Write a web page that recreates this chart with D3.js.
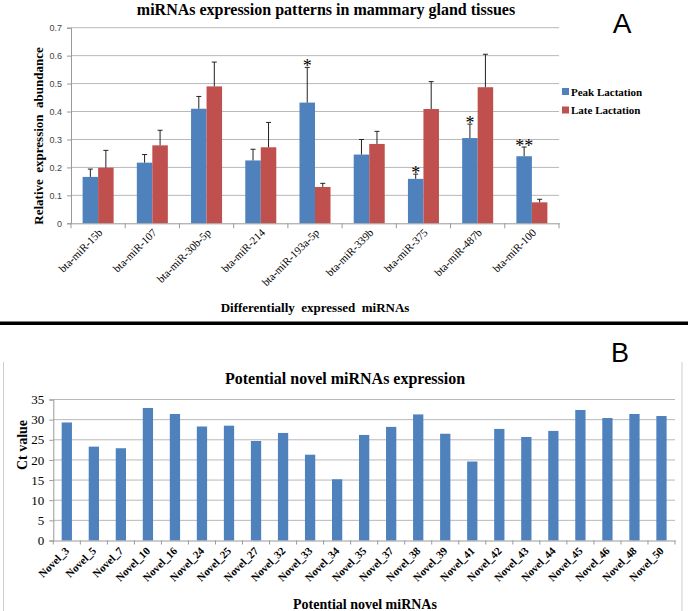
<!DOCTYPE html>
<html><head><meta charset="utf-8">
<script src="https://cdn.jsdelivr.net/npm/d3@7"></script>
<style>body{margin:0;background:#fff}svg{display:block}</style>
</head><body>
<svg id="c" width="688" height="611"></svg>
<script>
// ---- Panel A data ----
const mirnas = ["bta-miR-15b","bta-miR-107","bta-miR-30b-5p","bta-miR-214","bta-miR-193a-5p","bta-miR-339b","bta-miR-375","bta-miR-487b","bta-miR-100"];
const seriesNames = ["Peak Lactation","Late Lactation"];
const peakValues = [0.166,0.217,0.410,0.225,0.432,0.246,0.159,0.305,0.240];
const peakErrors = [0.028,0.029,0.044,0.040,0.126,0.054,0.017,0.050,0.033];
const lateValues = [0.199,0.279,0.490,0.272,0.130,0.284,0.409,0.487,0.075];
const lateErrors = [0.062,0.054,0.087,0.089,0.013,0.045,0.098,0.118,0.011];
const significance = ["","","","","*","","*","*","**"];
const yTicksA = [0,0.1,0.2,0.3,0.4,0.5,0.6,0.7];

// ---- Panel B data ----
const novels = ["Novel_3","Novel_5","Novel_7","Novel_10","Novel_16","Novel_24","Novel_25","Novel_27","Novel_32","Novel_33","Novel_34","Novel_35","Novel_37","Novel_38","Novel_39","Novel_41","Novel_42","Novel_43","Novel_44","Novel_45","Novel_46","Novel_48","Novel_50"];
const ctValues = [29.3,23.3,22.9,32.9,31.4,28.3,28.5,24.7,26.7,21.3,15.2,26.2,28.2,31.3,26.5,19.6,27.7,25.7,27.2,32.4,30.4,31.4,30.9];
const yTicksB = [0,5,10,15,20,25,30,35];

const BLUE = "#4F81BD", RED = "#C0504D", GRID = "#b8b8b8";
const SERIF = "'Liberation Serif','DejaVu Serif',serif";
const SANS = "'Liberation Sans',Arial,sans-serif";
const svg = d3.select("#c");

// ================= Panel A =================
const A = {left:71, right:559, top:27.7, bottom:223.3};
const xA = d3.scaleBand().domain(mirnas).range([A.left, A.right]).paddingInner(0.428).paddingOuter(0.214);
const subA = d3.scaleBand().domain(seriesNames).range([0, xA.bandwidth()]);
const yA = d3.scaleLinear().domain([0,0.7]).range([A.bottom, A.top]);
const color = d3.scaleOrdinal().domain(seriesNames).range([BLUE, RED]);

const gA = svg.append("g");
// gridlines
gA.append("g").selectAll("line").data(yTicksA.slice(1)).join("line")
  .attr("x1", A.left).attr("x2", A.right)
  .attr("y1", d=>yA(d)).attr("y2", d=>yA(d))
  .attr("stroke", GRID).attr("stroke-width", 1);
// y axis
const yAxisA = gA.append("g").attr("transform", `translate(${A.left},0)`)
  .call(d3.axisLeft(yA).tickValues(yTicksA).tickFormat(d=> d===0 ? "0" : d3.format(".1f")(d)).tickSize(4).tickPadding(5));
yAxisA.select(".domain").attr("stroke", "#999");
yAxisA.selectAll(".tick line").attr("stroke", "#999");
yAxisA.selectAll("text").attr("font-family", SANS).attr("font-size", 9).attr("fill", "#444");

// bars
const rowsA = mirnas.map((m,i)=>({m, vals:[
  {s:seriesNames[0], v:peakValues[i], e:peakErrors[i]},
  {s:seriesNames[1], v:lateValues[i], e:lateErrors[i]}], sig:significance[i]}));
const groups = gA.append("g").selectAll("g").data(rowsA).join("g")
  .attr("transform", d=>`translate(${xA(d.m)},0)`);
groups.selectAll("rect").data(d=>d.vals).join("rect")
  .attr("x", d=>subA(d.s)).attr("width", subA.bandwidth())
  .attr("y", d=>yA(d.v)).attr("height", d=>yA(0)-yA(d.v))
  .attr("fill", d=>color(d.s));
// error bars
groups.selectAll("line.err").data(d=>d.vals).join("line").attr("class","err")
  .attr("x1", d=>subA(d.s)+subA.bandwidth()/2).attr("x2", d=>subA(d.s)+subA.bandwidth()/2)
  .attr("y1", d=>yA(d.v)).attr("y2", d=>yA(d.v+d.e))
  .attr("stroke", "#222").attr("stroke-width", 1);
groups.selectAll("line.cap").data(d=>d.vals).join("line").attr("class","cap")
  .attr("x1", d=>subA(d.s)+subA.bandwidth()/2-2.5).attr("x2", d=>subA(d.s)+subA.bandwidth()/2+2.5)
  .attr("y1", d=>yA(d.v+d.e)).attr("y2", d=>yA(d.v+d.e))
  .attr("stroke", "#222").attr("stroke-width", 1);
// significance stars
groups.append("text")
  .attr("x", subA(seriesNames[0])+subA.bandwidth()/2)
  .attr("y", d=>yA(d.vals[0].v+d.vals[0].e)+5)
  .attr("text-anchor","middle").attr("font-family", SERIF).attr("font-size", 18)
  .attr("fill","#000").text(d=>d.sig);

// x axis
const xAxisA = gA.append("g").attr("transform", `translate(0,${A.bottom})`)
  .call(d3.axisBottom(xA).tickSize(0).tickFormat(""));
xAxisA.select(".domain").attr("stroke", "#999");
gA.append("g").selectAll("line").data(d3.range(mirnas.length+1)).join("line")
  .attr("x1", i=>A.left + i*xA.step()).attr("x2", i=>A.left + i*xA.step())
  .attr("y1", A.bottom).attr("y2", A.bottom+5).attr("stroke","#999");
gA.append("g").selectAll("text").data(mirnas).join("text")
  .attr("transform", d=>`translate(${xA(d)+xA.bandwidth()/2+5},${A.bottom+10}) rotate(-45)`)
  .attr("text-anchor","end").attr("font-family", SERIF).attr("font-size", 11).attr("fill","#000")
  .text(d=>d);

// titles
svg.append("text").attr("x", 326).attr("y", 15).attr("text-anchor","middle")
  .attr("font-family", SERIF).attr("font-weight","bold").attr("font-size", 16).text("miRNAs expression patterns in mammary gland tissues");
svg.append("text").attr("x", 315).attr("y", 312).attr("text-anchor","middle").attr("xml:space","preserve")
  .attr("font-family", SERIF).attr("font-weight","bold").attr("font-size", 13).style("white-space","pre")
  .text("Differentially  expressed  miRNAs");
svg.append("text").attr("transform","translate(43,136) rotate(-90)").attr("text-anchor","middle")
  .attr("font-family", SERIF).attr("font-weight","bold").attr("font-size", 13).style("white-space","pre")
  .text("Relative  expression  abundance");
svg.append("text").attr("x", 622).attr("y", 33).attr("text-anchor","middle")
  .attr("font-family", SANS).attr("font-size", 28).text("A");

// legend
const leg = svg.append("g").selectAll("g").data(seriesNames).join("g")
  .attr("transform", (d,i)=>`translate(562,${88+i*18.5})`);
leg.append("rect").attr("width",7).attr("height",7).attr("fill", d=>color(d));
leg.append("text").attr("x",9).attr("y",7.5).attr("font-family", SERIF).attr("font-weight","bold")
  .attr("font-size", 11).text(d=>d);

// separator
svg.append("rect").attr("x",0).attr("y",321.5).attr("width",688).attr("height",3.5).attr("fill","#000");

// ================= Panel B =================
svg.append("line").attr("x1",3.5).attr("x2",3.5).attr("y1",362).attr("y2",611).attr("stroke","#cfcfcf");
svg.append("line").attr("x1",682).attr("x2",682).attr("y1",362).attr("y2",611).attr("stroke","#cfcfcf");

const B = {left:53.3, right:675, top:399.5, bottom:540.5};
const xB = d3.scaleBand().domain(novels).range([B.left, B.right]).paddingInner(0.62).paddingOuter(0.31);
const yB = d3.scaleLinear().domain([0,35]).range([B.bottom, B.top]);
const gB = svg.append("g");
gB.append("g").selectAll("line").data(yTicksB.slice(1)).join("line")
  .attr("x1", B.left).attr("x2", B.right)
  .attr("y1", d=>yB(d)).attr("y2", d=>yB(d)).attr("stroke", GRID);
const yAxisB = gB.append("g").attr("transform", `translate(${B.left},0)`)
  .call(d3.axisLeft(yB).tickValues(yTicksB).tickSize(4).tickPadding(5));
yAxisB.select(".domain").attr("stroke","#999");
yAxisB.selectAll(".tick line").attr("stroke","#999");
yAxisB.selectAll("text").attr("font-family", SERIF).attr("font-size", 13).attr("fill","#000");

gB.append("g").selectAll("rect").data(novels.map((n,i)=>({n, v:ctValues[i]}))).join("rect")
  .attr("x", d=>xB(d.n)).attr("width", xB.bandwidth())
  .attr("y", d=>yB(d.v)).attr("height", d=>yB(0)-yB(d.v)).attr("fill", BLUE);

const xAxisB = gB.append("g").attr("transform", `translate(0,${B.bottom})`)
  .call(d3.axisBottom(xB).tickSize(0).tickFormat(""));
xAxisB.select(".domain").attr("stroke","#999");
gB.append("g").selectAll("line").data(d3.range(novels.length+1)).join("line")
  .attr("x1", i=>B.left + i*xB.step()).attr("x2", i=>B.left + i*xB.step())
  .attr("y1", B.bottom).attr("y2", B.bottom+4).attr("stroke","#999");
gB.append("g").selectAll("text").data(novels).join("text")
  .attr("transform", d=>`translate(${xB(d)+xB.bandwidth()/2+3},${B.bottom+11}) rotate(-45)`)
  .attr("text-anchor","end").attr("font-family", SERIF).attr("font-weight","bold").attr("font-size", 11).attr("fill","#000")
  .text(d=>d);

svg.append("text").attr("x", 345).attr("y", 384).attr("text-anchor","middle")
  .attr("font-family", SERIF).attr("font-weight","bold").attr("font-size", 16).text("Potential novel miRNAs expression");
svg.append("text").attr("x", 365).attr("y", 609).attr("text-anchor","middle")
  .attr("font-family", SERIF).attr("font-weight","bold").attr("font-size", 14).text("Potential novel miRNAs");
svg.append("text").attr("transform","translate(27,445) rotate(-90)").attr("text-anchor","middle")
  .attr("font-family", SERIF).attr("font-weight","bold").attr("font-size", 14).text("Ct value");
svg.append("text").attr("x", 620).attr("y", 362).attr("text-anchor","middle")
  .attr("font-family", SANS).attr("font-size", 27).text("B");
</script>
</body></html>
